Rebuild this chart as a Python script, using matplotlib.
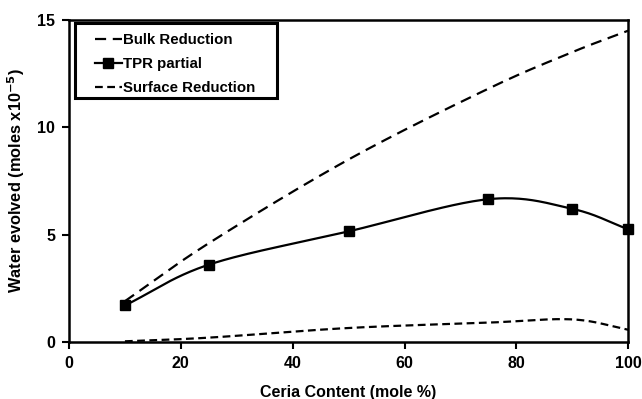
import numpy as np
import matplotlib
matplotlib.use("Agg")
import matplotlib.pyplot as plt
from matplotlib.patches import Rectangle

plt.rcParams['font.family'] = ['Liberation Sans', 'DejaVu Sans']
plt.rcParams['font.weight'] = 'bold'

# Data
ceria = [10, 25, 50, 75, 90, 100]
bulk = [1.9, 4.6, 8.5, 11.8, 13.5, 14.5]
tpr = [1.7, 3.6, 5.15, 6.65, 6.2, 5.25]
surface = [0.03, 0.2, 0.65, 0.9, 1.05, 0.57]


def smooth(xs, ys, n=40):
    # Catmull-Rom curve through the points (like Excel "smoothed line")
    xs = np.asarray(xs, float)
    ys = np.asarray(ys, float)
    px = np.concatenate([[2*xs[0]-xs[1]], xs, [2*xs[-1]-xs[-2]]])
    py = np.concatenate([[2*ys[0]-ys[1]], ys, [2*ys[-1]-ys[-2]]])
    outx, outy = [], []
    t = np.linspace(0, 1, n)
    for i in range(1, len(px)-2):
        for p, out in ((px, outx), (py, outy)):
            p0, p1, p2, p3 = p[i-1], p[i], p[i+1], p[i+2]
            seg = 0.5*((2*p1) + (-p0+p2)*t + (2*p0-5*p1+4*p2-p3)*t**2
                       + (-p0+3*p1-3*p2+p3)*t**3)
            out.extend(seg)
    return np.array(outx), np.array(outy)


LW = 1.6
W, H = 642, 399
fig = plt.figure(figsize=(6.42, 3.99), dpi=100)
ax = fig.add_axes([0.1075, 0.143, 0.871, 0.807])

bx, by = smooth(ceria, bulk)
ax.plot(bx, by, color='black', lw=LW, dashes=(5, 3))
tx, ty = smooth(ceria, tpr)
ax.plot(tx, ty, color='black', lw=LW)
ax.plot(ceria, tpr, 'ks', ms=7, ls='none', clip_on=False, zorder=5)
sx, sy = smooth(ceria, surface)
ax.plot(sx, sy, color='black', lw=LW, dashes=(3.5, 2))

# legend: frame drawn separately (wider side padding than matplotlib gives)
h1, = ax.plot([], [], color='black', lw=LW, dashes=(5, 3))
h2, = ax.plot([], [], color='black', lw=LW, marker='s', ms=7)
h3, = ax.plot([], [], color='black', lw=LW, dashes=(3.5, 2))
leg = ax.legend([h1, h2, h3], ['Bulk Reduction', 'TPR partial', 'Surface Reduction'],
                loc='upper left', bbox_to_anchor=(95/W, 1-33/H), bbox_transform=fig.transFigure,
                fontsize=10.8, handlelength=1.8, handletextpad=0.1, numpoints=1,
                frameon=False, borderpad=0, labelspacing=0.68, borderaxespad=0)
fig.patches.append(Rectangle((75/W, 1-98/H), 202/W, 75/H, transform=fig.transFigure,
                             fill=False, edgecolor='black', lw=2.2, zorder=10))

ax.set_xlim(0, 100)
ax.set_ylim(0, 15)
ax.set_xticks([0, 20, 40, 60, 80, 100])
ax.set_yticks([0, 5, 10, 15])
ax.tick_params(direction='out', length=5, width=1.5, labelsize=11.5, pad=5)
for s in ax.spines.values():
    s.set_linewidth(1.8)

ax.set_xlabel('Ceria Content (mole %)', fontsize=11.5, fontweight='bold', labelpad=10)
ax.set_ylabel('Water evolved (moles x10$^{\\mathbf{-5}}$)', fontsize=11.8, fontweight='bold', labelpad=7)

fig.savefig('out.png', dpi=100)
